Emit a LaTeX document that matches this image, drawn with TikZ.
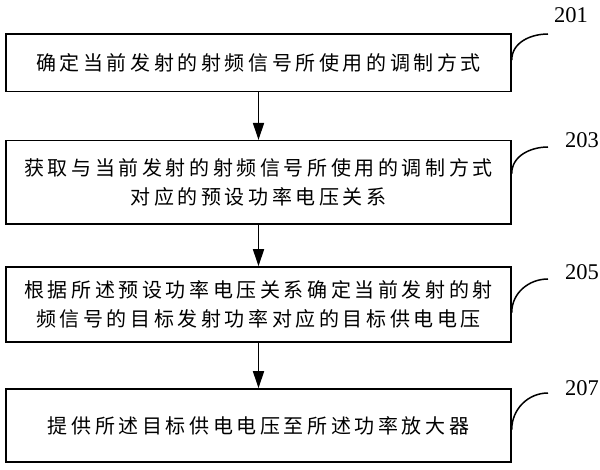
\documentclass[tikz,border=0pt]{standalone}
\usepackage{fontspec}
\setmainfont{Liberation Serif}
\newfontfamily\cjk[LetterSpace=18]{Noto Sans CJK SC}
\usetikzlibrary{arrows.meta}
\tikzset{
  stepbox/.style={draw,line width=1.5pt,minimum width=505pt,inner sep=0pt,align=center,font=\fontsize{20}{29}\selectfont\cjk},
  flow/.style={line width=1.3pt,-{Triangle[length=17pt,width=11pt]}},
  tag/.style={line width=1.5pt},
  tagnum/.style={font=\fontsize{22.5}{22}\selectfont},
}
\begin{document}
\begin{tikzpicture}[x=1pt,y=-1pt]
\useasboundingbox(0,0)rectangle(600,470);
\node[stepbox,minimum height=57.5pt](s1)at(258.5,63){确定当前发射的射频信号所使用的调制方式};
\node[stepbox,minimum height=83.5pt](s2)at(258.5,182.5){获取与当前发射的射频信号所使用的调制方式\\对应的预设功率电压关系};
\node[stepbox,minimum height=75pt](s3)at(258.5,304.5){根据所述预设功率电压关系确定当前发射的射\\频信号的目标发射功率对应的目标供电电压};
\node[stepbox,minimum height=73pt](s4)at(258.5,425.5){提供所述目标供电电压至所述功率放大器};
\draw[flow](s1)--(s2);
\draw[flow](s2)--(s3);
\draw[flow](s3)--(s4);
% step numbers
\coordinate(c1)at(548,34);\node[tagnum](n1)at(571,15){201};
\coordinate(c2)at(548,147);\node[tagnum](n2)at(582,140){203};
\coordinate(c3)at(548,279);\node[tagnum](n3)at(582,272){205};
\coordinate(c4)at(548,393);\node[tagnum](n4)at(582,388){207};
\draw[tag]([yshift=3pt]s1.east)to[out=90,in=180](c1);
\draw[tag]([yshift=9pt]s2.east)to[out=90,in=180](c2);
\draw[tag]([yshift=-8pt]s3.east)to[out=90,in=180](c3);
\draw[tag]([yshift=-4pt]s4.east)to[out=90,in=180](c4);
\end{tikzpicture}
\end{document}
